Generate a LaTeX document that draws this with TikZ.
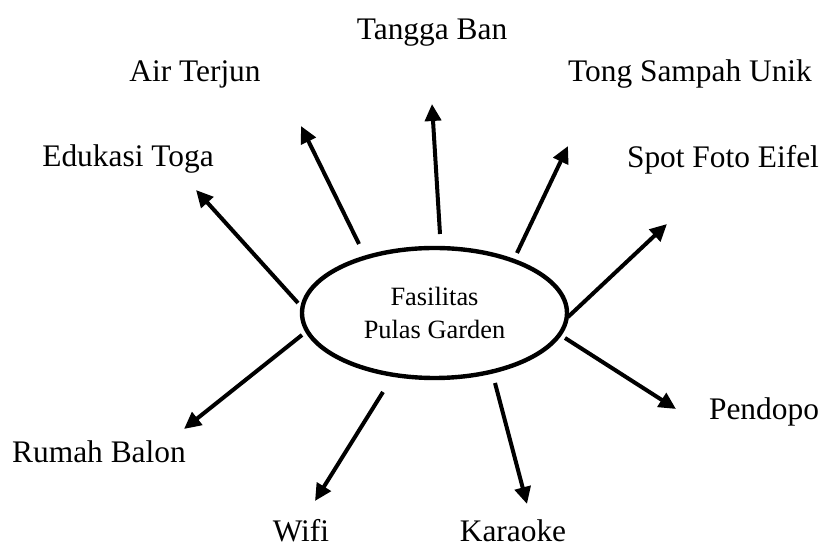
\documentclass[tikz,border=0pt]{standalone}
\usepackage{fontspec}
\setmainfont{Liberation Serif}
\usetikzlibrary{arrows.meta,shapes.geometric}
\begin{document}
\begin{tikzpicture}[x=0.5pt,y=-0.5pt,
  lbl/.style={anchor=base,inner sep=0pt,font=\fontsize{15.7}{18}\selectfont},
  arr/.style={line width=2pt,-{Triangle[length=8.5pt,width=8pt]}},
  hub/.style={draw,ellipse,line width=2.2pt,minimum width=132.5pt,minimum height=65pt,inner sep=0pt,align=center,font=\fontsize{13.2}{16.5}\selectfont}]
\useasboundingbox (0,0) rectangle (826,549);
\node[hub] (c) at (434.5,313) {Fasilitas\\Pulas Garden};
% label nodes
\node[lbl] (tb) at (432,40) {Tangga Ban};
\node[lbl] (at) at (195,82) {Air Terjun};
\node[lbl] (ts) at (690,82) {Tong Sampah Unik};
\node[lbl] (et) at (128,167) {Edukasi Toga};
\node[lbl] (sf) at (723,168) {Spot Foto Eifel};
\node[lbl] (pd) at (764,420) {Pendopo};
\node[lbl] (rb) at (99,463) {Rumah Balon};
\node[lbl] (wf) at (301,542) {Wifi};
\node[lbl] (kr) at (513,542) {Karaoke};
% arrow ends
\coordinate (s1) at (440,234); \coordinate (e1) at (432,104);
\coordinate (s2) at (359,244); \coordinate (e2) at (301,126);
\coordinate (s3) at (298,303); \coordinate (e3) at (196,190);
\coordinate (s4) at (517,253); \coordinate (e4) at (568,146);
\coordinate (s5) at (568,317); \coordinate (e5) at (667,224);
\coordinate (s6) at (565,338); \coordinate (e6) at (676,409);
\coordinate (s7) at (495,383); \coordinate (e7) at (527,504);
\coordinate (s8) at (383,392); \coordinate (e8) at (315,501);
\coordinate (s9) at (302,335); \coordinate (e9) at (184,429);
\foreach \i in {1,...,9}{\draw[arr] (s\i) -- (e\i);}
\end{tikzpicture}
\end{document}
